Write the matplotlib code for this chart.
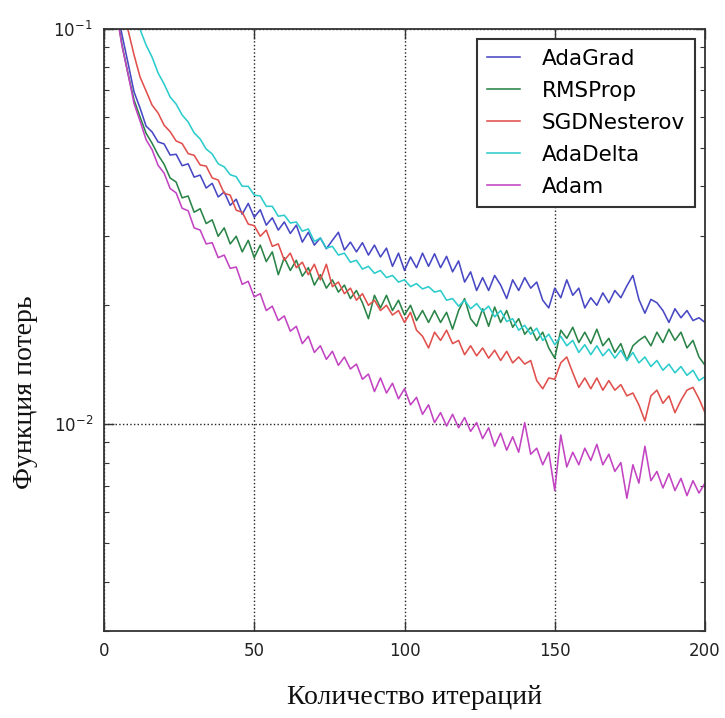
import matplotlib
matplotlib.use("Agg")
import matplotlib.pyplot as plt
from matplotlib.ticker import NullLocator

iterations = list(range(2, 201, 2))

adagrad = [0.170, 0.115, 0.0966, 0.0820, 0.0693, 0.0631, 0.0568, 0.0549, 0.0518, 0.0512,
           0.0480, 0.0482, 0.0451, 0.0456, 0.0422, 0.0427, 0.0396, 0.0407, 0.0376, 0.0387,
           0.0358, 0.0371, 0.0340, 0.0362, 0.0334, 0.0349, 0.0319, 0.0333, 0.0310, 0.0325,
           0.0304, 0.0319, 0.0289, 0.0306, 0.0284, 0.0296, 0.0278, 0.0292, 0.0306, 0.0276,
           0.0289, 0.0273, 0.0288, 0.0268, 0.0284, 0.0265, 0.0279, 0.0251, 0.0271, 0.0245,
           0.0265, 0.0249, 0.0271, 0.0251, 0.0270, 0.0249, 0.0266, 0.0243, 0.0259, 0.0229,
           0.0243, 0.0218, 0.0235, 0.0218, 0.0238, 0.0225, 0.0208, 0.0232, 0.0218, 0.0235,
           0.0221, 0.0229, 0.0206, 0.0197, 0.0221, 0.0209, 0.0232, 0.0212, 0.0221, 0.0197,
           0.0209, 0.0200, 0.0215, 0.0203, 0.0218, 0.0209, 0.0224, 0.0238, 0.0207, 0.0191,
           0.0207, 0.0203, 0.0194, 0.0181, 0.0196, 0.0186, 0.0194, 0.0183, 0.0186, 0.0181]

rmsprop = [0.170, 0.112, 0.0911, 0.0770, 0.0661, 0.0599, 0.0545, 0.0514, 0.0480, 0.0455,
           0.0420, 0.0410, 0.0374, 0.0378, 0.0344, 0.0351, 0.0322, 0.0329, 0.0299, 0.0314,
           0.0286, 0.0299, 0.0273, 0.0292, 0.0264, 0.0284, 0.0258, 0.0273, 0.0239, 0.0264,
           0.0245, 0.0260, 0.0237, 0.0249, 0.0225, 0.0239, 0.0221, 0.0232, 0.0216, 0.0225,
           0.0208, 0.0218, 0.0203, 0.0185, 0.0212, 0.0197, 0.0212, 0.0194, 0.0206, 0.0189,
           0.0200, 0.0183, 0.0194, 0.0181, 0.0194, 0.0181, 0.0192, 0.0174, 0.0194, 0.0208,
           0.0185, 0.0177, 0.0196, 0.0177, 0.0198, 0.0181, 0.0194, 0.0176, 0.0185, 0.0169,
           0.0176, 0.0163, 0.0171, 0.0156, 0.0147, 0.0173, 0.0165, 0.0176, 0.0161, 0.0171,
           0.0160, 0.0174, 0.0158, 0.0165, 0.0152, 0.0160, 0.0145, 0.0158, 0.0163, 0.0167,
           0.0158, 0.0171, 0.0161, 0.0174, 0.0163, 0.0171, 0.0156, 0.0163, 0.0148, 0.0141]

sgd_nesterov = [0.300, 0.160, 0.105, 0.0994, 0.0860, 0.0756, 0.0697, 0.0642, 0.0613, 0.0571,
                0.0550, 0.0521, 0.0513, 0.0484, 0.0479, 0.0453, 0.0450, 0.0420, 0.0415, 0.0384,
                0.0380, 0.0348, 0.0344, 0.0321, 0.0318, 0.0299, 0.0310, 0.0282, 0.0286, 0.0260,
                0.0271, 0.0249, 0.0257, 0.0239, 0.0254, 0.0232, 0.0254, 0.0223, 0.0229, 0.0214,
                0.0221, 0.0206, 0.0214, 0.0200, 0.0206, 0.0194, 0.0200, 0.0189, 0.0194, 0.0181,
                0.0192, 0.0173, 0.0167, 0.0156, 0.0171, 0.0163, 0.0173, 0.0160, 0.0163, 0.0150,
                0.0158, 0.0149, 0.0156, 0.0147, 0.0154, 0.0145, 0.0153, 0.0143, 0.0148, 0.0142,
                0.0145, 0.0129, 0.0123, 0.0131, 0.0130, 0.0143, 0.0148, 0.0135, 0.0124, 0.0131,
                0.0123, 0.0131, 0.0122, 0.0129, 0.0122, 0.0126, 0.0118, 0.0120, 0.0112, 0.0102,
                0.0118, 0.0122, 0.0113, 0.0118, 0.0107, 0.0115, 0.0122, 0.0124, 0.0116, 0.0107]

adadelta = [0.300, 0.200, 0.150, 0.125, 0.108, 0.0998, 0.0911, 0.0849, 0.0774, 0.0726,
            0.0673, 0.0646, 0.0606, 0.0582, 0.0546, 0.0527, 0.0497, 0.0483, 0.0456, 0.0448,
            0.0428, 0.0423, 0.0400, 0.0400, 0.0380, 0.0378, 0.0356, 0.0356, 0.0336, 0.0338,
            0.0323, 0.0325, 0.0308, 0.0312, 0.0290, 0.0296, 0.0279, 0.0282, 0.0268, 0.0271,
            0.0257, 0.0260, 0.0247, 0.0251, 0.0241, 0.0245, 0.0235, 0.0238, 0.0229, 0.0232,
            0.0223, 0.0227, 0.0220, 0.0223, 0.0216, 0.0218, 0.0206, 0.0208, 0.0199, 0.0206,
            0.0196, 0.0202, 0.0193, 0.0199, 0.0187, 0.0194, 0.0182, 0.0185, 0.0173, 0.0178,
            0.0169, 0.0175, 0.0163, 0.0169, 0.0159, 0.0167, 0.0158, 0.0163, 0.0152, 0.0159,
            0.0150, 0.0158, 0.0149, 0.0155, 0.0147, 0.0154, 0.0145, 0.0152, 0.0143, 0.0148,
            0.0140, 0.0145, 0.0137, 0.0142, 0.0135, 0.0140, 0.0133, 0.0137, 0.0129, 0.0132]

adam = [0.170, 0.112, 0.0905, 0.0770, 0.0648, 0.0585, 0.0525, 0.0495, 0.0452, 0.0432,
        0.0395, 0.0385, 0.0352, 0.0347, 0.0314, 0.0310, 0.0286, 0.0288, 0.0264, 0.0268,
        0.0248, 0.0250, 0.0226, 0.0230, 0.0210, 0.0214, 0.0194, 0.0199, 0.0183, 0.0188,
        0.0172, 0.0177, 0.0160, 0.0167, 0.0152, 0.0158, 0.0146, 0.0153, 0.0141, 0.0148,
        0.0138, 0.0142, 0.0130, 0.0134, 0.0121, 0.0131, 0.0120, 0.0127, 0.0116, 0.0123,
        0.0112, 0.0117, 0.0106, 0.0112, 0.0101, 0.0107, 0.0099, 0.0106, 0.0098, 0.0104,
        0.0096, 0.0101, 0.0092, 0.0098, 0.0088, 0.0095, 0.0086, 0.0093, 0.0085, 0.0101,
        0.0084, 0.0087, 0.0079, 0.0085, 0.0068, 0.0094, 0.0078, 0.0085, 0.0079, 0.0087,
        0.0081, 0.0089, 0.0079, 0.0084, 0.0076, 0.0080, 0.0065, 0.0079, 0.0071, 0.0088,
        0.0072, 0.0076, 0.0069, 0.0075, 0.0068, 0.0073, 0.0066, 0.0072, 0.0067, 0.0071]

series_names = ["AdaGrad", "RMSProp", "SGDNesterov", "AdaDelta", "Adam"]
series_data = [adagrad, rmsprop, sgd_nesterov, adadelta, adam]
series_colors = ["#4848c4", "#2a8448", "#e0504c", "#2ccccc", "#c244c2"]

xlabel = "Количество итераций"
ylabel = "Функция потерь"
xticks = [0, 50, 100, 150, 200]

W, H = 725, 718
fig = plt.figure(figsize=(W / 100, H / 100), dpi=100)
ax = fig.add_axes([104 / W, 1 - 631 / H, (705 - 104) / W, (631 - 29) / H])

for name, data, color in zip(series_names, series_data, series_colors):
    ax.plot(iterations, data, color=color, lw=1.15, label=name)

ax.set_yscale("log")
ax.set_ylim(3e-3, 0.1)
ax.set_xlim(0, 200)
ax.set_xticks(xticks)
ax.xaxis.set_minor_locator(NullLocator())
ax.grid(True, which="major", linestyle=":", color="#222222", linewidth=1.0)
ax.tick_params(which="both", direction="in", top=True, right=True, colors="#333333",
               labelcolor="#222222")
ax.tick_params(which="major", length=7, width=1.0, labelsize=12, pad=8)
ax.tick_params(which="minor", length=3.5, width=0.8)
for sp in ax.spines.values():
    sp.set_color("#333333")
    sp.set_linewidth(1.3)

leg = ax.legend(loc="upper right", fontsize=15.5, fancybox=False, framealpha=1,
                edgecolor="#333333", handlelength=1.55, handletextpad=1.0,
                labelspacing=0.56, borderpad=0.45, borderaxespad=0.47)
leg.get_frame().set_linewidth(1.5)

fig.text(415 / W, 1 - 698 / H, xlabel, ha="center", va="center",
         family="Liberation Serif", fontsize=20, color="#111111")
fig.text(26 / W, 1 - 392 / H, ylabel, ha="center", va="center", rotation=90,
         family="Liberation Serif", fontsize=20, color="#111111")

fig.savefig("out.png", dpi=100)
